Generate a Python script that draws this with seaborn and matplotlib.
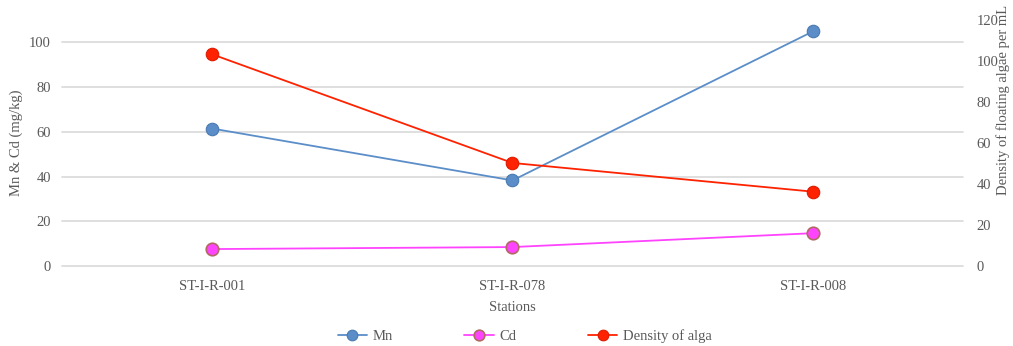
import matplotlib
matplotlib.use("Agg")
import matplotlib.pyplot as plt
import seaborn as sns
import pandas as pd

stations = ["ST-I-R-001", "ST-I-R-078", "ST-I-R-008"]
mn = [61.5, 38.3, 104.9]
cd = [7.6, 8.5, 14.7]
alga_density = [103.3, 50.3, 36.3]

sns.set_style("white")
plt.rcParams["font.family"] = ["Liberation Serif", "DejaVu Serif"]
text_color = "#595959"

df = pd.DataFrame({"Station": stations, "Mn": mn, "Cd": cd, "Density": alga_density})

fig = plt.figure(figsize=(10.13, 3.46), dpi=100)
ax = fig.add_axes([0.0612, 0.231, 0.8894, 0.711])
ax2 = ax.twinx()

mn_color = "#5b8ec9"
cd_color = "#ff44ff"
alga_color = "#ff2200"

sns.lineplot(data=df, x="Station", y="Mn", ax=ax, color=mn_color, lw=1.3,
             marker="o", markersize=9, markeredgecolor="#4a7ab0", markeredgewidth=0.8,
             sort=False, label="Mn", legend=False)
sns.lineplot(data=df, x="Station", y="Cd", ax=ax, color=cd_color, lw=1.3,
             marker="o", markersize=9, markeredgecolor="#b06a60", markeredgewidth=1.2,
             sort=False, label="Cd", legend=False)
sns.lineplot(data=df, x="Station", y="Density", ax=ax2, color=alga_color, lw=1.3,
             marker="o", markersize=9, markeredgecolor="#dd1a00", markeredgewidth=0.8,
             sort=False, label="Density of alga", legend=False)

ax.set_xlim(-0.5, 2.5)
ax.set_ylim(0, 110)
ax2.set_ylim(0, 120)
ax.set_yticks(range(0, 101, 20))
ax2.set_yticks(range(0, 121, 20))

ax.grid(axis="y", color="#d9d9d9", lw=1.2)
for gl in ax.get_ygridlines():
    gl.set_clip_on(False)
ax.set_axisbelow(True)
ax2.grid(False)
for a in (ax, ax2):
    for s in a.spines.values():
        s.set_visible(False)
    a.tick_params(length=0, labelsize=10.5, colors=text_color)

ax.tick_params(axis="x", pad=10)
ax.tick_params(axis="y", pad=8)
ax2.tick_params(axis="y", pad=10)

ax.set_xlabel("Stations", fontsize=10.5, color=text_color, labelpad=6)
ax.set_ylabel("Mn & Cd (mg/kg)", fontsize=10.5, color=text_color, labelpad=4)
ax2.set_ylabel("Density of floating algae per mL", fontsize=10.5, color=text_color)
ax2.yaxis.set_label_coords(1.037, 0.675)

h1, l1 = ax.get_legend_handles_labels()
h2, l2 = ax2.get_legend_handles_labels()
fig.legend(h1 + h2, l1 + l2, loc="lower center", bbox_to_anchor=(0.518, -0.03),
           ncol=3, frameon=False, fontsize=10.5, labelcolor=text_color,
           columnspacing=4.9, handlelength=2.0, handletextpad=0.4, markerscale=0.85)

fig.savefig("out.png", dpi=100)
